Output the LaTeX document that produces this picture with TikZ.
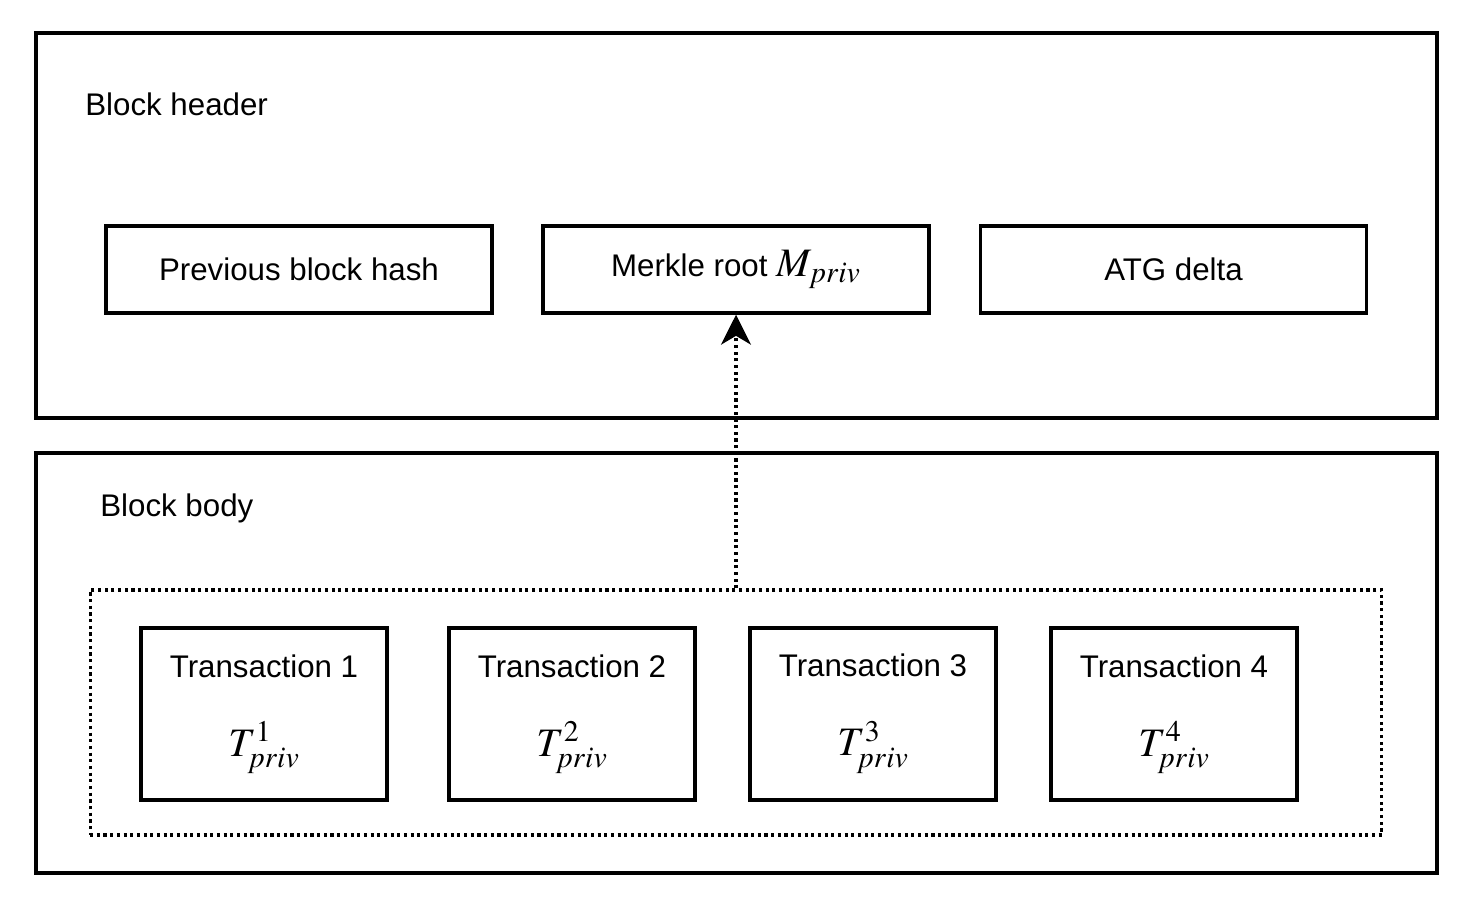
\documentclass[tikz,border=0pt]{standalone}
\usepackage{fontspec}
\usepackage{mathptmx}
\setmainfont{Liberation Sans}
\usetikzlibrary{arrows.meta}

\newcommand{\bigmath}[1]{{\fontsize{23}{26}\selectfont$#1$}}

\begin{document}
\begin{tikzpicture}[x=0.02cm,y=-0.02cm,
            font=\fontsize{17.8}{21}\selectfont,
            part/.style={draw,line width=2pt,minimum width=28.02cm},
            field/.style={draw,line width=2pt,minimum width=7.72cm,minimum height=1.74cm},
            txbox/.style={draw,line width=2pt,minimum width=4.92cm,minimum height=3.44cm,align=center}]
            \useasboundingbox (0,0) rectangle (1474,912);
            \node (header) at (736.5,225.5) [part,minimum height=7.7cm] {};
            \node (body) at (736.5,663) [part,minimum height=8.4cm] {};
            \node (hlabel) at (85,104) [anchor=west,inner sep=0pt] {Block header};
            \node (blabel) at (100,508) [anchor=west,inner sep=0pt] {Block body};
            \node (prev) at (299,269.5) [field] {Previous block hash};
            \node (merkle) at (736,269.5) [field] {Merkle root \bigmath{M_{priv}}};
            \node (atg) at (1173.5,269.5) [field] {ATG delta};
            \node (txs) at (736,712.5) [draw,dotted,line width=1.8pt,minimum width=25.84cm,minimum height=4.9cm] {};
            \node (tx1) at (264,714) [txbox] {Transaction 1\\[24pt]\bigmath{T^1_{priv}}};
            \node (tx2) at (572,714) [txbox] {Transaction 2\\[24pt]\bigmath{T^2_{priv}}};
            \node (tx3) at (873,714) [txbox] {Transaction 3\\[24pt]\bigmath{T^3_{priv}}};
            \node (tx4) at (1174,714) [txbox] {Transaction 4\\[24pt]\bigmath{T^4_{priv}}};
            \draw [dotted,line width=1.8pt,-{Stealth[length=17pt,width=17pt,inset=5pt]}] (txs.north) -- (merkle.south);
        \end{tikzpicture}
\end{document}
